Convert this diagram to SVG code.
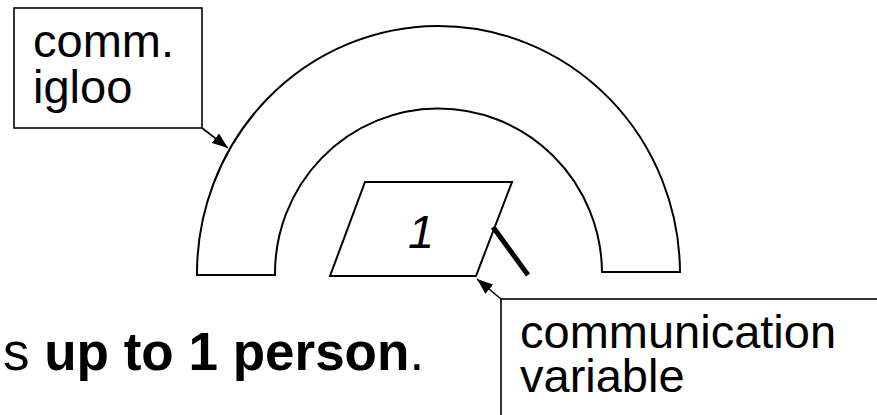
<svg xmlns="http://www.w3.org/2000/svg" width="877" height="415" viewBox="0 0 877 415">
  <style>
    .shape { fill: #fff; stroke: #000; stroke-width: 2; }
    .box { fill: #fff; stroke: #000; stroke-width: 1.6; }
    .label { font-family: "Liberation Sans", Arial, sans-serif; font-size: 47px; fill: #000; }
    .conn { fill: none; stroke: #000; stroke-width: 1.6; }
  </style>
  <defs>
    <marker id="arrow" viewBox="0 0 16 12" refX="16" refY="6" markerWidth="16" markerHeight="12" markerUnits="userSpaceOnUse" orient="auto">
      <path d="M0,0 L16,6 L0,12 Z" fill="#000"/>
    </marker>
  </defs>

  <rect width="877" height="415" fill="#fff"/>

  <!-- igloo half-ring -->
  <g id="igloo">
    <path class="shape" d="M197,275 A241,247 0 0 1 680,272 L602,272 A163.5,165 0 0 0 275,275 Z"/>
  </g>

  <!-- variable parallelogram -->
  <g id="variable">
    <polygon class="shape" points="365,182 512,182 476,276 330,276" stroke-width="1.6"/>
    <text x="421" y="248" class="label" font-style="italic" text-anchor="middle" font-size="49">1</text>
    <line x1="493" y1="227" x2="528" y2="275" stroke="#000" stroke-width="5"/>
  </g>

  <!-- callout: comm. igloo -->
  <g id="label-igloo">
    <rect class="box" x="14" y="8" width="188" height="120"/>
    <text class="label" x="33" y="57">comm.</text>
    <text class="label" x="33" y="103">igloo</text>
  </g>

  <!-- callout: communication variable -->
  <g id="label-variable">
    <rect class="box" x="501" y="299" width="400" height="150"/>
    <text class="label" x="520" y="348">communication</text>
    <text class="label" x="520" y="392">variable</text>
  </g>

  <!-- caption line -->
  <g id="caption">
    <text x="3" y="370" font-family="Liberation Sans, Arial, sans-serif" font-size="53" fill="#000">s <tspan font-weight="bold">up to 1 person</tspan>.</text>
  </g>

  <!-- connectors -->
  <g id="connectors">
    <line class="conn" x1="202" y1="128" x2="228" y2="148" marker-end="url(#arrow)"/>
    <line class="conn" x1="501" y1="299" x2="477" y2="279" marker-end="url(#arrow)"/>
  </g>
</svg>
